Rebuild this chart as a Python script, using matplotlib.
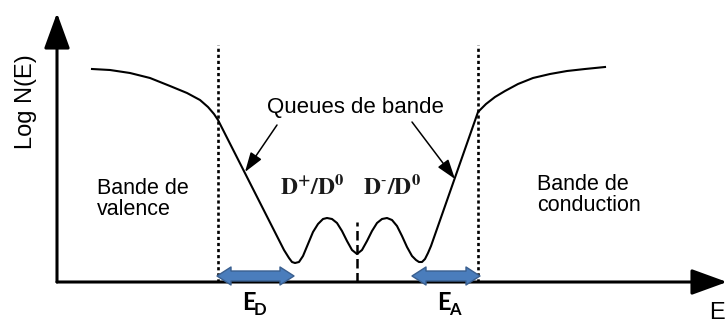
import matplotlib
matplotlib.use("Agg")
import matplotlib.pyplot as plt
from matplotlib.patches import Polygon

plt.rcParams["mathtext.fontset"] = "stix"

# Density of states sketch, energy on x and log N(E) on y (arbitrary units)
valence_E = [35, 53, 73, 93, 113, 130, 143, 151, 157, 161]
valence_N = [213, 212, 209, 204, 196, 189, 182, 175, 168, 162]

gap_E = [227, 232, 235, 238, 242, 246, 251, 256, 261, 266, 270, 275, 280,
         285, 290, 295, 300, 305, 310, 315, 320, 325, 330, 335, 340, 345,
         350, 355, 359, 362, 365, 368, 371, 374]
gap_N = [32, 24, 20, 19, 20, 26, 38, 50, 58, 63, 64, 63, 59, 51, 41, 32, 28,
         32, 41, 51, 59, 63, 64, 62, 56, 46, 35, 26, 22, 20, 20, 23, 29, 36]

conduction_E = [421, 429, 438, 448, 461, 476, 493, 510, 528, 548]
conduction_N = [170, 178, 185, 191, 198, 204, 208, 211, 213, 215]

# mobility edges, mid-gap level and defect energy ranges
edge_valence = 161
edge_conduction = 421
mid_gap = 300
ED_span = (160, 237)
EA_span = (355, 423)


def double_arrow(ax, x0, x1, y, head_len=14, head_half=9, tail_half=5):
    """Block arrow with heads on both ends, sizes in data units."""
    pts = [
        (x0, y),
        (x0 + head_len, y + head_half),
        (x0 + head_len, y + tail_half),
        (x1 - head_len, y + tail_half),
        (x1 - head_len, y + head_half),
        (x1, y),
        (x1 - head_len, y - head_half),
        (x1 - head_len, y - tail_half),
        (x0 + head_len, y - tail_half),
        (x0 + head_len, y - head_half),
    ]
    ax.add_patch(Polygon(pts, closed=True, facecolor="#4a7dbc",
                         edgecolor="#3a5f8f", lw=1.0, joinstyle="round",
                         zorder=3))


fig = plt.figure(figsize=(7.27, 3.23), dpi=100)
ax = fig.add_axes([0, 0, 1, 1])
ax.set_xlim(-57, 670)
ax.set_ylim(-41, 282)
ax.axis("off")

# Axes with arrow heads
axis_style = "-|>,head_length=1.1,head_width=0.4"
ax.annotate("", xy=(0, 269), xytext=(0, 0),
            arrowprops=dict(arrowstyle=axis_style, lw=2.2, color="black",
                            mutation_scale=20, shrinkA=0, shrinkB=0))
ax.annotate("", xy=(670, 0), xytext=(0, 0),
            arrowprops=dict(arrowstyle=axis_style, lw=2.2, color="black",
                            mutation_scale=20, shrinkA=0, shrinkB=0))

# Density of states curve
curve_E = valence_E + gap_E + conduction_E
curve_N = valence_N + gap_N + conduction_N
ax.plot(curve_E, curve_N, color="black", lw=1.5, solid_joinstyle="round")

# Mobility edges and mid-gap marker
for e in (edge_valence, edge_conduction):
    ax.plot([e, e], [0, 237], color="black", lw=1.9, ls=(0, (1.2, 1.1)))
ax.plot([mid_gap, mid_gap], [0, 60], color="black", lw=1.8, ls=(0, (3.8, 1.8)))

# Band tail arrows
tail_style = "-|>,head_length=0.6,head_width=0.2"
ax.annotate("", xy=(188, 110), xytext=(220, 157),
            arrowprops=dict(arrowstyle=tail_style, lw=1.1, color="black",
                            mutation_scale=20, shrinkA=0, shrinkB=0))
ax.annotate("", xy=(398, 103), xytext=(355, 160),
            arrowprops=dict(arrowstyle=tail_style, lw=1.1, color="black",
                            mutation_scale=20, shrinkA=0, shrinkB=0))

# Defect energy ranges
for span in (ED_span, EA_span):
    double_arrow(ax, span[0], span[1], 6)

sans = "Liberation Sans"
ax.text(-31, 180, "Log N(E)", rotation=90, ha="center", va="center",
        fontsize=17, family=sans)
ax.text(298, 175, "Queues de bande", ha="center", va="center",
        fontsize=16, family=sans)
ax.text(40, 83, "Bande de\nvalence", ha="left", va="center",
        fontsize=15.5, family=sans, linespacing=1.0)
ax.text(480, 87, "Bande de\nconduction", ha="left", va="center",
        fontsize=15.5, family=sans, linespacing=1.0)
ax.text(255, 95, r"$\mathbf{D^{+}/D^{0}}$", ha="center", va="center",
        fontsize=17, color="#1a1a1a")
ax.text(335, 95, r"$\mathbf{D}^{\text{-}}\mathbf{/D^{0}}$", ha="center",
        va="center", fontsize=17, color="#1a1a1a")

# E_D and E_A labels
for x0, sub in ((185, "D"), (380, "A")):
    ax.text(x0, -28, "E", ha="left", va="baseline", fontsize=17,
            family="Lato", weight="bold")
    ax.text(x0 + 12, -33, sub, ha="left", va="baseline", fontsize=12,
            family="Lato", weight="bold")

ax.text(652, -20, "E", ha="left", va="top", fontsize=17, family=sans)

fig.savefig("out.png", dpi=100)
